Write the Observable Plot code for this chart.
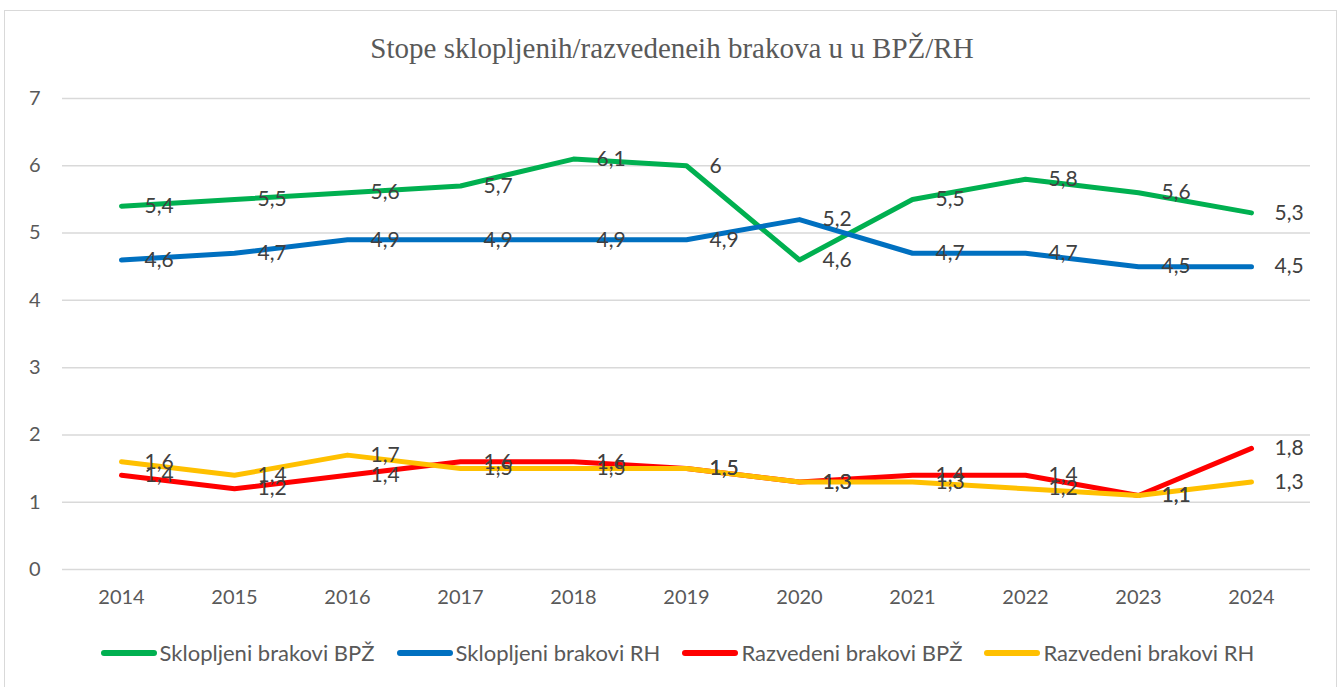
<!DOCTYPE html>
<html>
<head>
<meta charset="utf-8">
<script src="https://cdn.jsdelivr.net/npm/d3@7"></script>
<script src="https://cdn.jsdelivr.net/npm/@observablehq/plot@0.6"></script>
<style>
  html, body { margin: 0; padding: 0; background: #fff; width: 1344px; height: 687px; overflow: hidden; }
  #frame { position: absolute; left: 4px; top: 10px; width: 1333px; height: 700px; border: 1px solid #d9d9d9; box-sizing: border-box; }
  #title { position: absolute; left: 0; top: 32px; width: 1344px; text-align: center; font-family: "Liberation Serif", "Times New Roman", serif; font-size: 29px; line-height: 32px; color: #595959; }
  #chart { position: absolute; left: 5px; top: 80px; }
  #legend { position: absolute; left: 0; top: 639px; width: 1355px; display: flex; justify-content: center; align-items: center; font-family: Lato, sans-serif; font-size: 22px; line-height: 28px; color: #595959; }
  .item { display: flex; align-items: center; margin: 0 11px; }
  .sw { width: 56px; height: 6px; border-radius: 3px; margin-right: 3px; }
</style>
</head>
<body>
<div id="frame"></div>
<div id="title"></div>
<div id="chart"></div>
<div id="legend"></div>
<script>
const titleText = "Stope sklopljenih/razvedeneih brakova u u BPŽ/RH";
const years = ["2014","2015","2016","2017","2018","2019","2020","2021","2022","2023","2024"];
const seriesNames = ["Sklopljeni brakovi BPŽ","Sklopljeni brakovi RH","Razvedeni brakovi BPŽ","Razvedeni brakovi RH"];
const seriesColors = ["#00B050","#0070C0","#FF0000","#FFC000"];
const sklopljeniBPZ = [5.4,5.5,5.6,5.7,6.1,6,4.6,5.5,5.8,5.6,5.3];
const sklopljeniRH  = [4.6,4.7,4.9,4.9,4.9,4.9,5.2,4.7,4.7,4.5,4.5];
const razvedeniBPZ  = [1.4,1.2,1.4,1.6,1.6,1.5,1.3,1.4,1.4,1.1,1.8];
const razvedeniRH   = [1.6,1.4,1.7,1.5,1.5,1.5,1.3,1.3,1.2,1.1,1.3];
const yTicks = [0,1,2,3,4,5,6,7];

const allValues = [sklopljeniBPZ, sklopljeniRH, razvedeniBPZ, razvedeniRH];
const data = [];
allValues.forEach((vals, si) => {
  vals.forEach((v, i) => data.push({series: seriesNames[si], year: years[i], value: v}));
});
const fmt = v => String(v).replace(".", ",");

document.getElementById("title").textContent = titleText;

const plot = Plot.plot({
  width: 1333,
  height: 540,
  marginLeft: 57,
  marginRight: 28,
  marginTop: 18,
  marginBottom: 51,
  style: {fontFamily: "Lato, sans-serif", fontSize: "20px", color: "#595959", background: "transparent"},
  x: {type: "point", domain: years, padding: 0.5, label: null},
  y: {domain: [0, 7], label: null},
  color: {domain: seriesNames, range: seriesColors},
  marks: [
    Plot.gridY(yTicks, {stroke: "#d9d9d9", strokeOpacity: 1, strokeWidth: 1.5}),
    Plot.axisY(yTicks, {tickSize: 0, tickPadding: 22, fontSize: 20, fill: "#595959", tickFormat: d => String(d)}),
    Plot.axisX(years, {tickSize: 0, tickPadding: 20, fontSize: 20, fill: "#595959"}),
    Plot.line(data, {x: "year", y: "value", z: "series", stroke: "series", strokeWidth: 5, strokeLinejoin: "round", strokeLinecap: "round"}),
    Plot.text(data, {x: "year", y: "value", text: d => fmt(d.value), dx: 23, textAnchor: "start", fill: "#404040", fontSize: 21})
  ]
});
document.getElementById("chart").appendChild(plot);

const legend = document.getElementById("legend");
seriesNames.forEach((name, i) => {
  const item = document.createElement("div");
  item.className = "item";
  const sw = document.createElement("div");
  sw.className = "sw";
  sw.style.background = seriesColors[i];
  const t = document.createElement("span");
  t.textContent = name;
  item.appendChild(sw);
  item.appendChild(t);
  legend.appendChild(item);
});
</script>
</body>
</html>
